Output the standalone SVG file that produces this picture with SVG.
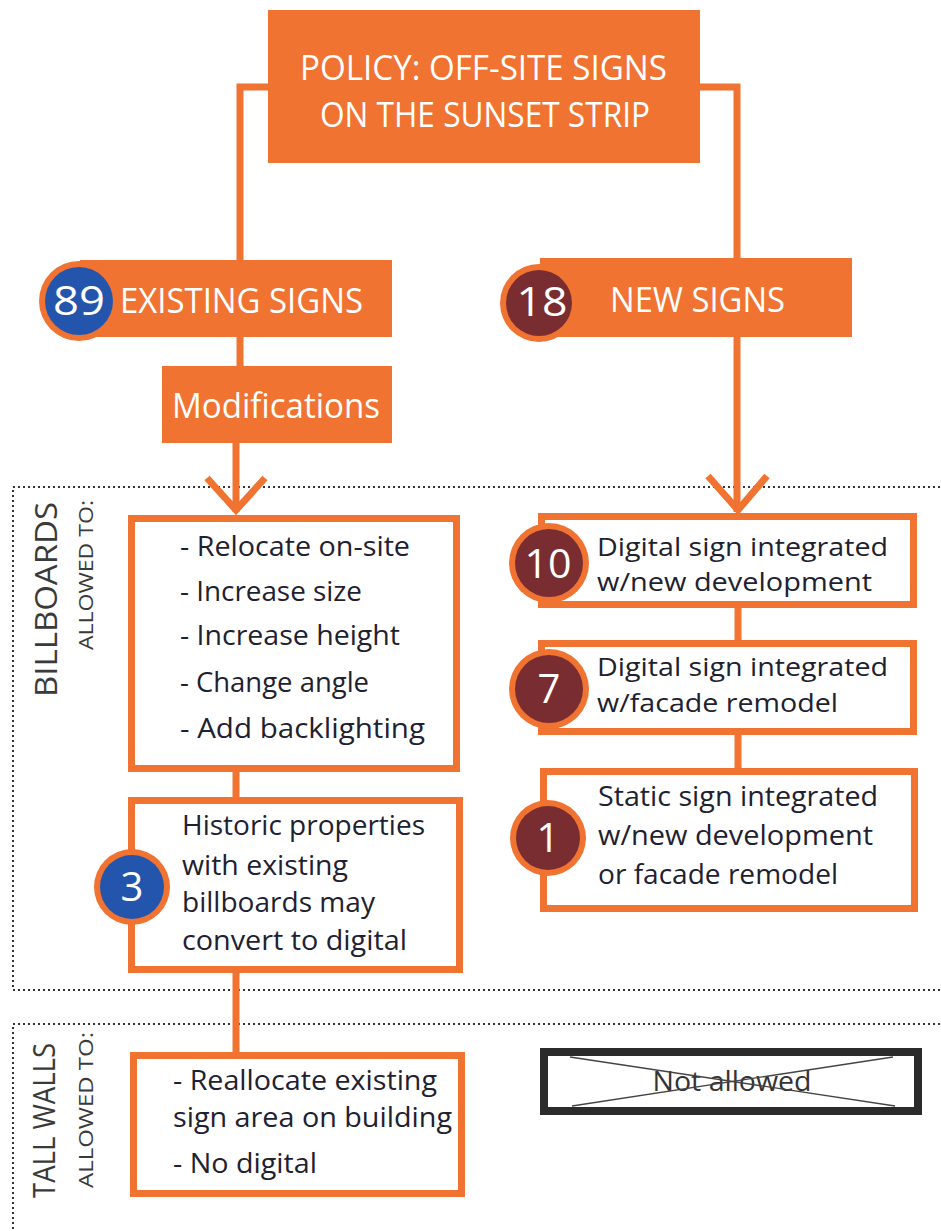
<svg xmlns="http://www.w3.org/2000/svg" width="941" height="1231" viewBox="0 0 941 1231">
<style>
text{font-family:"Open Sans","Liberation Sans",sans-serif;}
.hd{fill:#fff;font-size:34px;}
.num{fill:#fff;font-size:40px;text-anchor:middle;}
.bt{fill:#1e2130;font-size:28px;}
.bs{fill:#1e2130;font-size:26px;}
.ob{fill:#fff;stroke:#f07332;stroke-width:7;}
.of{fill:#f07332;}
.cn{stroke:#f07332;stroke-width:7;fill:none;}
.dot{stroke:#333;stroke-width:2;stroke-dasharray:2 3;fill:none;}
.side{fill:#3a3a3a;}
</style>
<rect width="941" height="1231" fill="#fff"/>
<g id="sections">
<path class="dot" d="M945 487 H13 V990 H945"/>
<path class="dot" d="M945 1024 H13 V1235"/>
<text class="side" font-size="31" transform="translate(57,697) rotate(-90)" textLength="195" lengthAdjust="spacingAndGlyphs">BILLBOARDS</text>
<text class="side" font-size="20" transform="translate(93,650) rotate(-90)" textLength="150" lengthAdjust="spacingAndGlyphs">ALLOWED TO:</text>
<text class="side" font-size="31" transform="translate(55,1198) rotate(-90)" textLength="155" lengthAdjust="spacingAndGlyphs">TALL WALLS</text>
<text class="side" font-size="20" transform="translate(93,1188) rotate(-90)" textLength="156" lengthAdjust="spacingAndGlyphs">ALLOWED TO:</text>
</g>
<g id="connectors">
<path class="cn" d="M268 87 H240 V262"/>
<path class="cn" d="M700 87 H737 V260"/>
<path class="cn" d="M240 335 V368"/>
<path class="cn" d="M236 441 V512"/>
<path class="cn" d="M207 478 L236 510 L265 478"/>
<path class="cn" d="M737 335 V512"/>
<path class="cn" d="M708 476 L738 510 L767 476"/>
<path class="cn" d="M236 770 V800"/>
<path class="cn" d="M236 970 V1055"/>
<path class="cn" d="M738 606 V642"/>
<path class="cn" d="M738 733 V770"/>
</g>
<g id="policy">
<rect class="of" x="268" y="10" width="432" height="153"/>
<text class="hd" x="300" y="80" textLength="367" lengthAdjust="spacingAndGlyphs">POLICY: OFF-SITE SIGNS</text>
<text class="hd" x="320" y="127" textLength="330" lengthAdjust="spacingAndGlyphs">ON THE SUNSET STRIP</text>
</g>
<g id="existing">
<rect class="of" x="80" y="260" width="312" height="77"/>
<circle cx="79" cy="301" r="40" fill="#f07332"/>
<circle cx="79" cy="301" r="34" fill="#2455ad"/>
<text class="num" x="79" y="315" textLength="52" lengthAdjust="spacingAndGlyphs">89</text>
<text class="hd" x="120" y="313" textLength="243" lengthAdjust="spacingAndGlyphs">EXISTING SIGNS</text>
</g>
<g id="new">
<rect class="of" x="540" y="258" width="312" height="79"/>
<circle cx="539" cy="303" r="39" fill="#f07332"/>
<circle cx="539" cy="303" r="33" fill="#7a2d30"/>
<text class="num" x="542" y="316" textLength="51" lengthAdjust="spacingAndGlyphs">18</text>
<text class="hd" x="610" y="312" textLength="175" lengthAdjust="spacingAndGlyphs">NEW SIGNS</text>
</g>
<g id="modifications">
<rect class="of" x="162" y="366" width="230" height="77"/>
<text class="hd" x="172" y="418" textLength="208" lengthAdjust="spacingAndGlyphs">Modifications</text>
</g>
<g id="billboard-mods">
<rect class="ob" x="131.5" y="518.5" width="325" height="250"/>
<text class="bt" x="180" y="556" textLength="230" lengthAdjust="spacingAndGlyphs">- Relocate on-site</text>
<text class="bt" x="180" y="601" textLength="182" lengthAdjust="spacingAndGlyphs">- Increase size</text>
<text class="bt" x="180" y="645" textLength="220" lengthAdjust="spacingAndGlyphs">- Increase height</text>
<text class="bt" x="180" y="692" textLength="189" lengthAdjust="spacingAndGlyphs">- Change angle</text>
<text class="bt" x="180" y="738" textLength="245" lengthAdjust="spacingAndGlyphs">- Add backlighting</text>
</g>
<g id="historic">
<rect class="ob" x="131.5" y="800.5" width="328" height="169"/>
<circle cx="132" cy="887" r="38" fill="#f07332"/>
<circle cx="132" cy="887" r="32" fill="#2455ad"/>
<text class="num" x="132" y="901">3</text>
<text class="bt" x="182" y="835" textLength="243" lengthAdjust="spacingAndGlyphs">Historic properties</text>
<text class="bt" x="182" y="875" textLength="166" lengthAdjust="spacingAndGlyphs">with existing</text>
<text class="bt" x="182" y="912" textLength="193" lengthAdjust="spacingAndGlyphs">billboards may</text>
<text class="bt" x="182" y="950" textLength="225" lengthAdjust="spacingAndGlyphs">convert to digital</text>
</g>
<g id="tallwalls">
<rect class="ob" x="133.5" y="1055.5" width="328" height="138"/>
<text class="bt" x="173" y="1090" textLength="264" lengthAdjust="spacingAndGlyphs">- Reallocate existing</text>
<text class="bt" x="173" y="1127" textLength="279" lengthAdjust="spacingAndGlyphs">sign area on building</text>
<text class="bt" x="173" y="1173" textLength="144" lengthAdjust="spacingAndGlyphs">- No digital</text>
</g>
<g id="digital-new">
<rect class="ob" x="541.5" y="516.5" width="372" height="88"/>
<circle cx="549" cy="563" r="40" fill="#f07332"/>
<circle cx="549" cy="563" r="34" fill="#7a2d30"/>
<text class="num" x="548" y="578" textLength="47" lengthAdjust="spacingAndGlyphs">10</text>
<text class="bs" x="597" y="556" textLength="291" lengthAdjust="spacingAndGlyphs">Digital sign integrated</text>
<text class="bs" x="597" y="591" textLength="275" lengthAdjust="spacingAndGlyphs">w/new development</text>
</g>
<g id="digital-facade">
<rect class="ob" x="541.5" y="643.5" width="372" height="88"/>
<circle cx="549" cy="689" r="40" fill="#f07332"/>
<circle cx="549" cy="689" r="34" fill="#7a2d30"/>
<text class="num" x="549" y="703">7</text>
<text class="bs" x="597" y="676" textLength="291" lengthAdjust="spacingAndGlyphs">Digital sign integrated</text>
<text class="bs" x="597" y="712" textLength="241" lengthAdjust="spacingAndGlyphs">w/facade remodel</text>
</g>
<g id="static">
<rect class="ob" x="543.5" y="771.5" width="371" height="137"/>
<circle cx="548" cy="838" r="38" fill="#f07332"/>
<circle cx="548" cy="838" r="32" fill="#7a2d30"/>
<text class="num" x="548" y="852">1</text>
<text class="bt" x="598" y="806" textLength="280" lengthAdjust="spacingAndGlyphs">Static sign integrated</text>
<text class="bt" x="598" y="845" textLength="275" lengthAdjust="spacingAndGlyphs">w/new development</text>
<text class="bt" x="598" y="884" textLength="240" lengthAdjust="spacingAndGlyphs">or facade remodel</text>
</g>
<g id="not-allowed">
<rect x="544" y="1052" width="374" height="59" fill="#fff" stroke="#2b2b2b" stroke-width="8"/>
<text x="732" y="1091" font-size="27" fill="#333" text-anchor="middle" textLength="159" lengthAdjust="spacingAndGlyphs">Not allowed</text>
<line x1="570" y1="1057" x2="895" y2="1106" stroke="#444" stroke-width="1.3"/>
<line x1="893" y1="1057" x2="572" y2="1106" stroke="#444" stroke-width="1.3"/>
</g>
</svg>
